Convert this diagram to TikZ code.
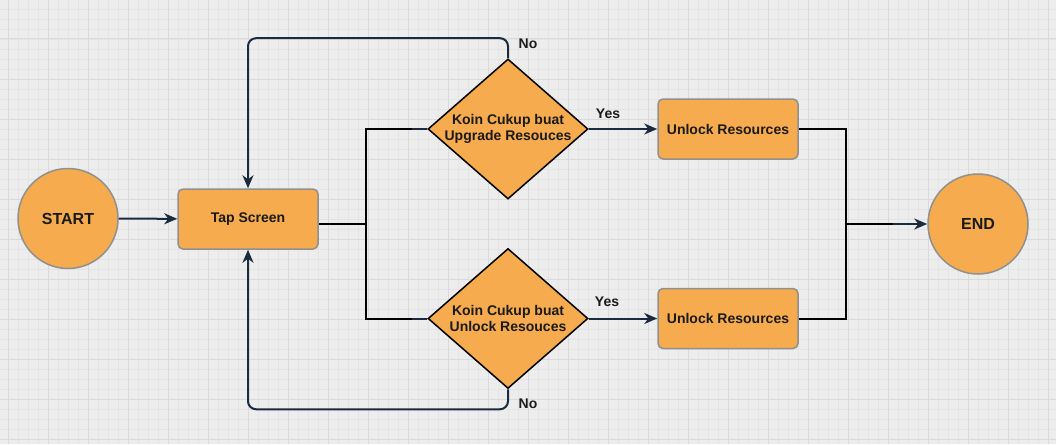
\documentclass[tikz,border=0pt]{standalone}
\usepackage{fontspec}
\setmainfont{Liberation Sans}
\usetikzlibrary{shapes.geometric,arrows.meta}
\definecolor{bg}{HTML}{EDEDED}
\definecolor{gridminor}{HTML}{E4E4E4}
\definecolor{gridmajor}{HTML}{DADADA}
\definecolor{orangefill}{HTML}{F5AB4E}
\definecolor{graybord}{HTML}{909090}
\definecolor{navy}{HTML}{1B2B3D}
\definecolor{txt}{HTML}{1A1A1A}
\tikzset{
  boxnode/.style={draw=graybord, line width=1.5pt, fill=orangefill, rounded corners=5pt,
    minimum width=140pt, minimum height=60pt, inner sep=0pt, font=\bfseries\fontsize{14}{16}\selectfont, text=txt},
  circnode/.style={draw=graybord, line width=1.5pt, fill=orangefill, circle, minimum size=100pt,
    inner sep=0pt, font=\bfseries\fontsize{16}{18}\selectfont, text=txt},
  decnode/.style={draw=black, line width=1.5pt, fill=orangefill, diamond, aspect=1.143,
    minimum width=160pt, minimum height=140pt, inner sep=0pt, align=center,
    font=\bfseries\fontsize{14}{16}\selectfont, text=txt},
  lbl/.style={font=\bfseries\fontsize{14}{16}\selectfont, text=txt, inner sep=0pt},
  conn/.style={draw=navy, line width=2pt, -{Stealth[length=13pt,width=11pt,inset=4pt]}},
  nline/.style={draw=navy, line width=2pt},
  bline/.style={draw=black, line width=2pt},
}
\begin{document}
\begin{tikzpicture}[x=1pt,y=-1pt]
\fill[bg] (0,0) rectangle (1056,444);
\useasboundingbox (0,0) rectangle (1056,444);
\foreach \x in {-2,8,...,1056} \draw[gridminor, line width=0.6pt] (\x,0) -- (\x,444);
\foreach \y in {9,19,...,444} \draw[gridminor, line width=0.6pt] (0,\y) -- (1056,\y);
\foreach \x in {8,48,...,1056} \draw[gridmajor, line width=1pt] (\x,0) -- (\x,444);
\foreach \y in {39,79,...,444} \draw[gridmajor, line width=1pt] (0,\y) -- (1056,\y);

\node[circnode] (start) at (68,218.5) {START};
\node[boxnode] (tap) at (248,219) {Tap Screen};
\node[decnode] (d1) at (508,129) {Koin Cukup buat\\Upgrade Resouces};
\node[decnode] (d2) at (508,318.5) {Koin Cukup buat\\Unlock Resouces};
\node[boxnode] (u1) at (728,129) {Unlock Resources};
\node[boxnode] (u2) at (728,318.5) {Unlock Resources};
\node[circnode] (endc) at (978,224) {END};

\coordinate (j1) at (366,224);
\coordinate (j2) at (846,224);

\draw[conn] (start) -- (tap);
\draw[nline] (d1.west) -| (j1) |- (d2.west);
\draw[bline] (tap.east |- j1) -- (j1);
\draw[bline] ([xshift=-15pt]d1.west) -| (j1) |- ([xshift=-15pt]d2.west);
\draw[conn] (d1.east) -- (d1.east -| u1.west);
\draw[conn] (d2.east) -- (d2.east -| u2.west);
\draw[conn, rounded corners=8pt] (d1.north) -- ++(0,-20) -| (tap.north);
\draw[conn, rounded corners=8pt] (d2.south) -- ++(0,20) -| (tap.south);
\draw[conn] (j2) -- (endc.west);
\draw[bline] (u1.east) -| (j2) |- (u2.east);
\draw[bline] (j2) -- ++(47,0);

\node[lbl] (no1) at (528,44) {No};
\node[lbl] (no2) at (528,404) {No};
\node[lbl] (yes1) at (608,113.5) {Yes};
\node[lbl] (yes2) at (607,302) {Yes};
\end{tikzpicture}
\end{document}
